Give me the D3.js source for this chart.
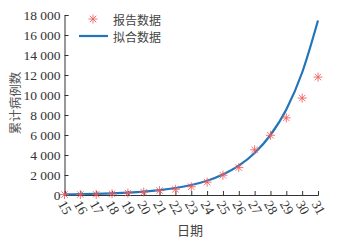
<!DOCTYPE html>
<html><head><meta charset="utf-8">
<script src="https://cdn.jsdelivr.net/npm/d3@7/dist/d3.min.js"></script>
<style>body{margin:0;background:#fff}svg{display:block}</style>
</head><body>
<script>
const days = [15,16,17,18,19,20,21,22,23,24,25,26,27,28,29,30,31];
const reported = [41,45,62,121,198,291,440,571,830,1287,1975,2744,4515,5974,7711,9692,11791];
const fitted = [56,80,115,165,240,340,490,700,1000,1430,2050,2930,4200,6000,8550,12250,17450];
const yTicks = [0,2000,4000,6000,8000,10000,12000,14000,16000,18000];
const legendLabels = ["报告数据","拟合数据"];
const xLabel = "日期", yLabel = "累计病例数";

const W=342,H=241;
const svg=d3.select("body").append("svg").attr("width",W).attr("height",H);
svg.append("rect").attr("width",W).attr("height",H).attr("fill","#fff");
const x=d3.scaleLinear().domain([15,31]).range([64.5,318]);
const y=d3.scaleLinear().domain([0,18000]).range([195,15]);
const axisColor="#333";
const fmt=v=>d3.format(",")(v).replace(/,/g," ");

const gy=svg.append("g").attr("transform","translate(64.5,0)")
  .call(d3.axisLeft(y).tickValues(yTicks).tickSize(-4).tickPadding(4).tickFormat(fmt));
gy.selectAll("text").attr("font-family","Liberation Serif").attr("font-size",13.5).attr("fill","#333");
const gx=svg.append("g").attr("transform","translate(0,195)")
  .call(d3.axisBottom(x).tickValues(days).tickSize(-4).tickFormat(d3.format("d")));
gx.selectAll("text").attr("font-family","Liberation Serif").attr("font-size",13.5).attr("fill","#333")
  .attr("text-anchor","middle").attr("dy",null).attr("y",null)
  .attr("transform","translate(0,12.5) rotate(60)").attr("dominant-baseline","central");
svg.selectAll(".domain,.tick line").attr("stroke",axisColor).attr("stroke-width",1);

const line=d3.line().x((d,i)=>x(days[i])).y(d=>y(d)).curve(d3.curveMonotoneX);
svg.append("path").datum(fitted).attr("d",line).attr("fill","none")
  .attr("stroke","#2374b8").attr("stroke-width",2.2);

function star(g,cx,cy,r){
  const a=svg.append("g").attr("transform",`translate(${cx},${cy})`)
    .attr("stroke","#f25a5a").attr("stroke-width",1).attr("stroke-opacity",0.85);
  [[0,-r,0,r],[-r,0,r,0],[-r*0.72,-r*0.72,r*0.72,r*0.72],[-r*0.72,r*0.72,r*0.72,-r*0.72]]
    .forEach(c=>a.append("line").attr("x1",c[0]).attr("y1",c[1]).attr("x2",c[2]).attr("y2",c[3]));
}
reported.forEach((v,i)=>star(svg,x(days[i]),y(v),4.5));

// legend
star(svg,93,19,4.5);
svg.append("line").attr("x1",79).attr("x2",108).attr("y1",36).attr("y2",36)
  .attr("stroke","#2374b8").attr("stroke-width",2.2);
svg.selectAll(".leg").data(legendLabels).enter().append("text")
  .attr("x",113).attr("y",(d,i)=>19+i*17).attr("dominant-baseline","central")
  .attr("font-family","Noto Sans CJK SC").attr("font-size",12).attr("fill","#444").text(d=>d);

svg.append("text").attr("x",190).attr("y",229).attr("text-anchor","middle")
  .attr("dominant-baseline","central").attr("font-family","Noto Sans CJK SC")
  .attr("font-size",13).attr("fill","#444").text(xLabel);
svg.append("text").attr("transform","translate(14,103) rotate(-90)").attr("text-anchor","middle")
  .attr("dominant-baseline","central").attr("font-family","Noto Sans CJK SC")
  .attr("font-size",12.5).attr("fill","#555").text(yLabel);
</script>
</body></html>
